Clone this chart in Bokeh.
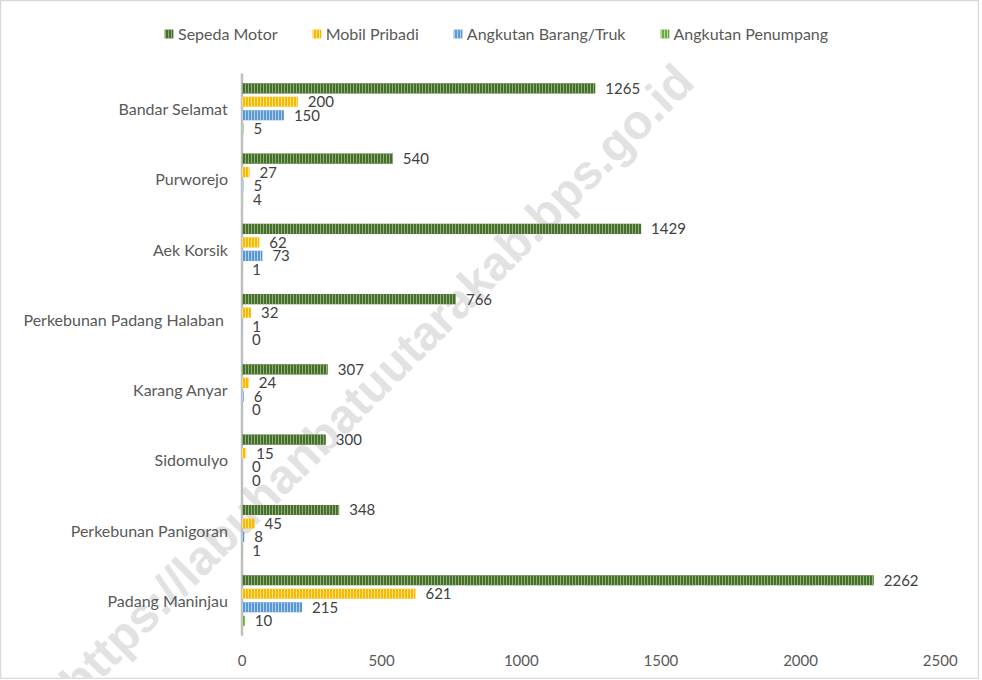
import math
from bokeh.plotting import figure
from bokeh.models import ColumnDataSource, Range1d, Legend, LegendItem
from bokeh.core.properties import value
from bokeh.embed import file_html
from bokeh.resources import INLINE

# ---- data (top to bottom as in the chart) ----
villages = ["Bandar Selamat", "Purworejo", "Aek Korsik", "Perkebunan  Padang Halaban",
            "Karang Anyar", "Sidomulyo", "Perkebunan Panigoran", "Padang Maninjau"]
sepeda_motor = [1265, 540, 1429, 766, 307, 300, 348, 2262]
mobil_pribadi = [200, 27, 62, 32, 24, 15, 45, 621]
angkutan_barang = [150, 5, 73, 1, 6, 0, 8, 215]
angkutan_penumpang = [5, 4, 1, 0, 0, 0, 1, 10]
x_ticks = [0, 500, 1000, 1500, 2000, 2500]
x_tick_labels = ["0", "500", "1000", "1500", "2000", "2500"]

series_names = ["Sepeda Motor", "Mobil Pribadi", "Angkutan Barang/Truk", "Angkutan Penumpang"]
series_keys = ["sm", "mp", "ab", "ap"]
series_vals = [sepeda_motor, mobil_pribadi, angkutan_barang, angkutan_penumpang]

# ---- styling ----
fill_colors = ["#466f2b", "#f9bb00", "#5a98d2", "#6aa844"]
hatch_colors = ["#8fae7a", "#ffe08a", "#b3d0ee", "#b9daa2"]
offsets = [0.288, 0.096, -0.096, -0.288]
BAR_H = 0.145
FONT = "Lato"
TXT = "#595959"

n = len(villages)
cat_pos = [n - 0.5 - i for i in range(n)]  # category slots, top to bottom

data = {"cat": villages, "pos": cat_pos, "zero": [0] * n}
for k, v, off in zip(series_keys, series_vals, offsets):
    data[k] = v
    data[k + "_lab"] = [str(x) for x in v]
    data[k + "_y"] = [c + off for c in cat_pos]
source = ColumnDataSource(data)
tick_src = ColumnDataSource({"x": x_ticks, "lab": x_tick_labels,
                             "y": [-0.354] * len(x_ticks)})

W, H = 979, 679
p = figure(width=W, height=H, output_backend="svg", toolbar_location=None,
           x_range=Range1d(-864.7, 2640.7), y_range=Range1d(-0.624, 9.037),
           x_axis_location=None, y_axis_location=None,
           min_border=0, min_border_left=0, min_border_right=0,
           min_border_top=0, min_border_bottom=0)
p.outline_line_color = "#d9d9d9"
p.outline_line_width = 1.5
p.xgrid.visible = False
p.ygrid.visible = False

# watermark (behind everything)
p.text(x=[482], y=[3.62], text=["https://labuhanbatuutarakab.bps.go.id"],
       angle=math.pi / 4, text_align="center", text_baseline="middle",
       text_font=value("Liberation Sans"), text_font_style="bold",
       text_font_size="48px", text_color="#e2e2e2")

# vertical category axis line
p.segment(x0=[0], y0=[0], x1=[0], y1=[n], line_color="#bfbfbf", line_width=2.5)

items = []
for k, name, fc, hc in zip(series_keys, series_names, fill_colors, hatch_colors):
    r = p.hbar(y=k + "_y", right=k, left=0, height=BAR_H,
               source=source, fill_color=fc, line_color=None,
               hatch_pattern="vertical_line", hatch_color=hc, hatch_weight=1,
               hatch_scale=3, hatch_alpha=1.0)
    p.text(x=k, y=k + "_y", text=k + "_lab", source=source,
           x_offset=10, text_align="left", text_baseline="middle",
           text_font=value(FONT), text_font_size="15px", text_color="#404040")
    items.append(LegendItem(label=name, renderers=[r]))

# category labels
p.text(x="zero", y="pos", text="cat", source=source, x_offset=-14,
       text_align="right", text_baseline="middle",
       text_font=value(FONT), text_font_size="16px", text_color=TXT)

# value axis tick labels
p.text(x="x", y="y", text="lab", source=tick_src, text_align="center",
       text_baseline="middle", text_font=value(FONT), text_font_size="15px",
       text_color=TXT)

legend = Legend(items=items, orientation="horizontal", location=(163, 636),
                label_text_font=FONT, label_text_font_size="16px", label_text_color=TXT,
                glyph_width=11, glyph_height=11, label_standoff=4, spacing=33,
                padding=0, margin=0, border_line_color=None, background_fill_alpha=0)
p.add_layout(legend, "center")

open("out.html", "w").write(file_html(p, INLINE))
